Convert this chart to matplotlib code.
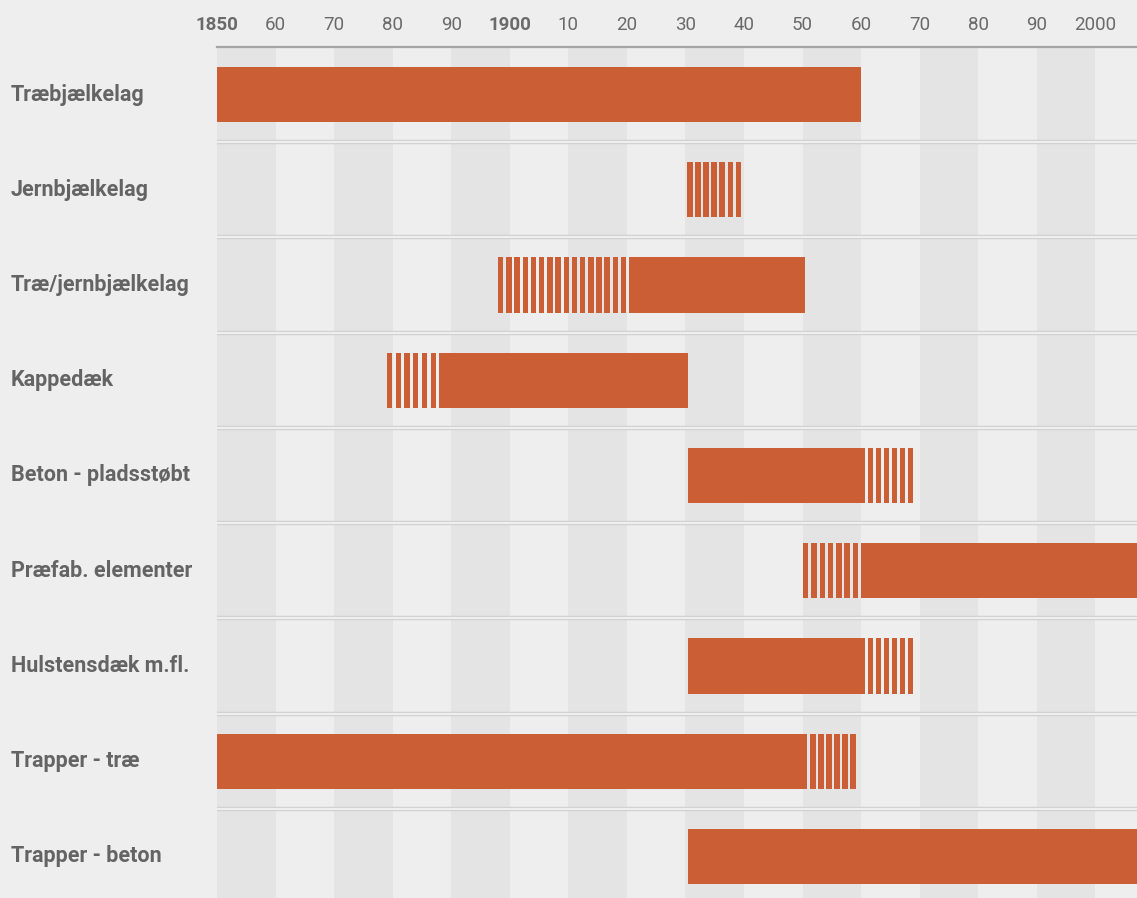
import matplotlib
matplotlib.use("Agg")
import matplotlib.pyplot as plt
import numpy as np
from matplotlib.transforms import blended_transform_factory

plt.rcParams['font.family'] = ['Roboto', 'DejaVu Sans']

# ---------------- data ----------------
categories = ["Træbjælkelag", "Jernbjælkelag", "Træ/jernbjælkelag", "Kappedæk",
              "Beton - pladsstøbt", "Præfab. elementer", "Hulstensdæk m.fl.",
              "Trapper - træ", "Trapper - beton"]
solid_start = [1850, None, 1920.4, 1888.0, 1930.4, 1960.0, 1930.4, 1850, 1930.4]
solid_end = [1960, None, 1950.4, 1930.4, 1960.7, 2010, 1960.7, 1950.8, 2010]
striped_start = [None, 1930.3, 1898.0, 1879.0, 1961.2, 1950.1, 1961.2, 1951.3, None]
striped_end = [None, 1939.5, 1919.9, 1887.4, 1968.9, 1959.5, 1968.9, 1959.1, None]

tick_years = [1850, 1860, 1870, 1880, 1890, 1900, 1910, 1920, 1930, 1940,
              1950, 1960, 1970, 1980, 1990, 2000]
tick_labels = ["1850", "60", "70", "80", "90", "1900", "10", "20", "30", "40",
               "50", "60", "70", "80", "90", "2000"]
bold_ticks = ["1850", "1900"]

# ---------------- style ----------------
BG = "#eeeeee"
BAND = "#e4e4e4"
BAR = "#cc5e35"
TXT = "#646464"
W, H = 1137, 898
px_per_year = 5.855

fig = plt.figure(figsize=(W / 100, H / 100), dpi=100, facecolor=BG)
ax = fig.add_axes([217 / W, -6 / H, 920 / W, 857 / H])
ax.set_facecolor(BG)
ax.set_xlim(1850, 1850 + 920 / px_per_year)
ax.set_ylim(8.5, -0.5)

for yr in range(1850, 2010, 20):
    ax.axvspan(yr, yr + 10, color=BAND, lw=0, zorder=0)

for i in range(len(categories) - 1):
    ax.axhline(i + 0.5, color="#d2d2d2", lw=3.2, zorder=1)
    ax.axhline(i + 0.5, color="#f8f8f8", lw=1.1, zorder=1.1)

bar_h = 0.58
stripe_w_px = 5.4
period_px = 8.2
for i, cat in enumerate(categories):
    if solid_start[i] is not None:
        ax.barh(i, solid_end[i] - solid_start[i], left=solid_start[i], height=bar_h,
                color=BAR, lw=0, zorder=3)
    if striped_start[i] is not None:
        a, b = striped_start[i], striped_end[i]
        sw = stripe_w_px / px_per_year
        n = int(round(((b - a) * px_per_year - stripe_w_px) / period_px)) + 1
        lefts = np.linspace(a, b - sw, n)
        ax.barh([i] * n, [sw] * n, left=lefts, height=bar_h, color=BAR, lw=0, zorder=3)

# axis
for s in ["left", "right", "bottom"]:
    ax.spines[s].set_visible(False)
ax.spines["top"].set_color("#a5a5a5")
ax.spines["top"].set_linewidth(1.6)
ax.spines["top"].set_zorder(5)
ax.xaxis.tick_top()
ax.set_xticks(tick_years)
ax.set_xticklabels(tick_labels)
ax.tick_params(axis="x", length=0, pad=9.5, labelsize=13.5, labelcolor="#6a6a6a")
for t in ax.get_xticklabels():
    t.set_fontweight("bold" if t.get_text() in bold_ticks else "normal")

ax.set_yticks([])

trans = blended_transform_factory(fig.transFigure, ax.transData)
for i, cat in enumerate(categories):
    ax.text(11 / W, i, cat, transform=trans, ha="left", va="center",
            fontsize=15.5, fontweight="bold", color=TXT)

fig.savefig("out.png", dpi=100, facecolor=BG)
